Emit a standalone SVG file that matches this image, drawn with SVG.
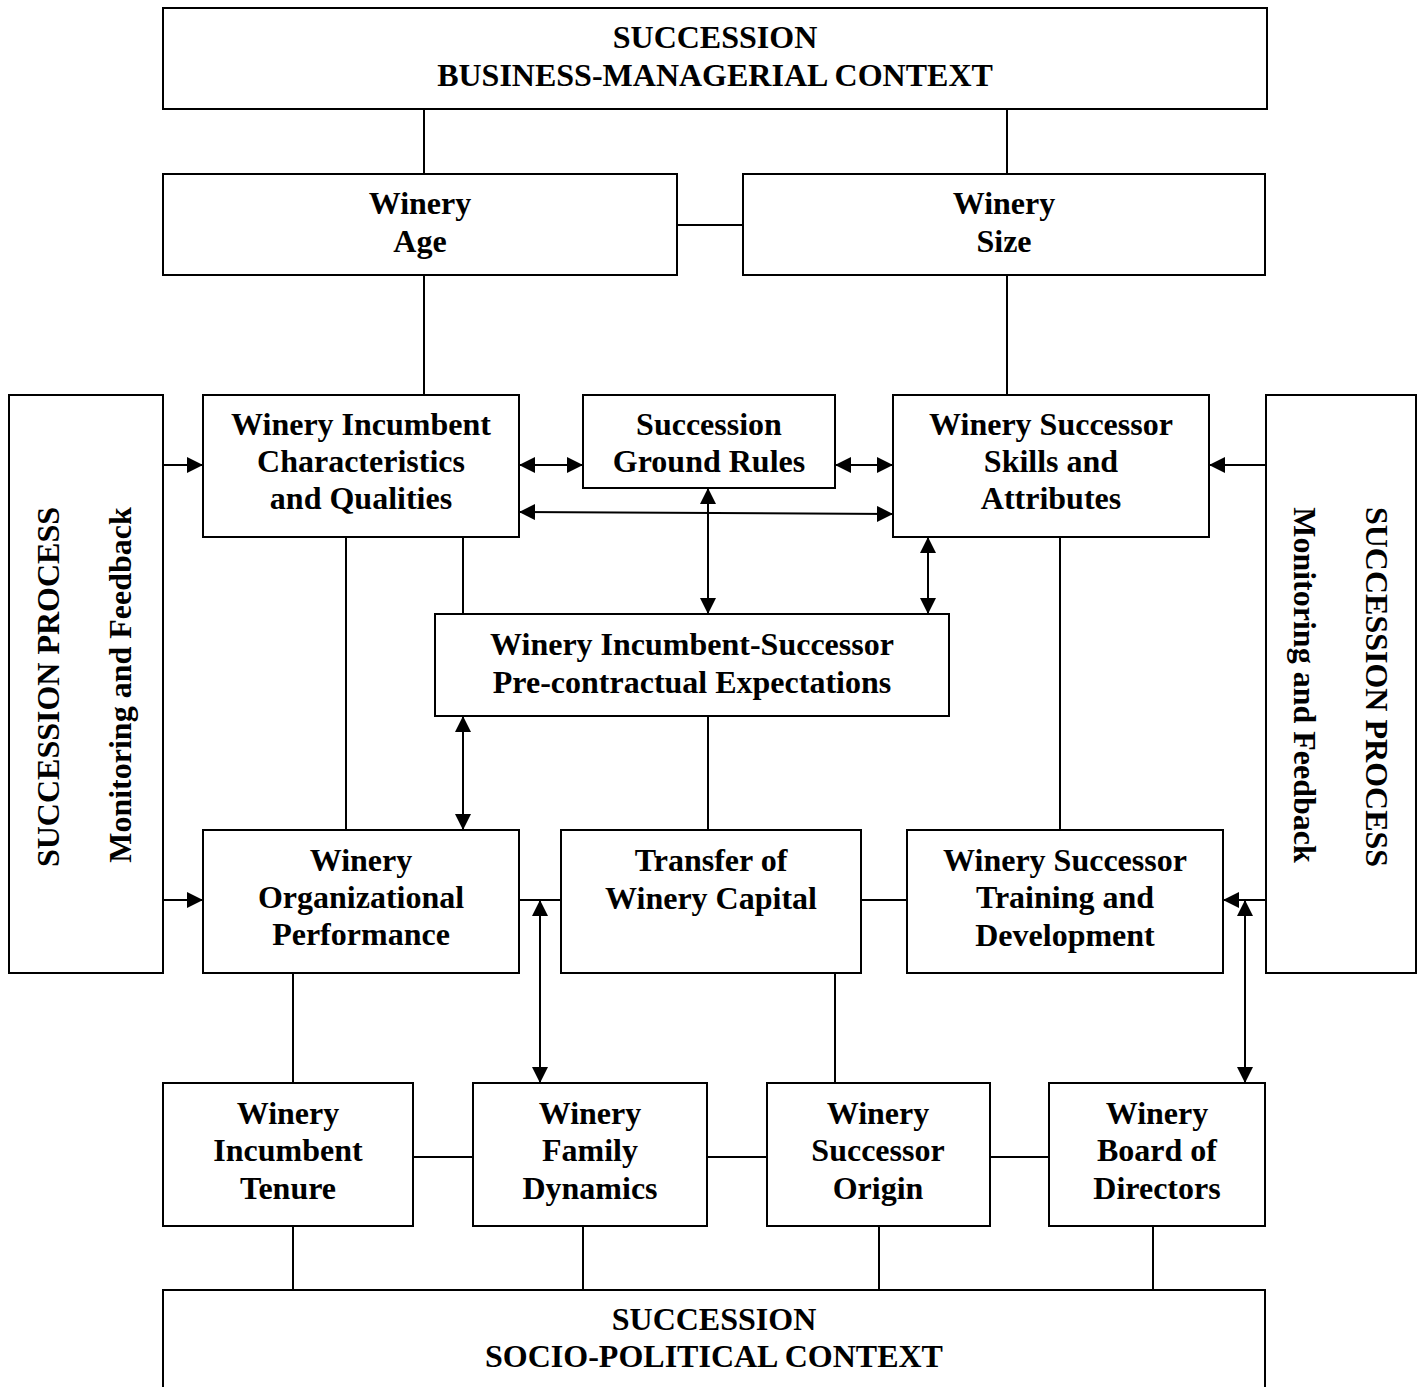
<svg xmlns="http://www.w3.org/2000/svg" width="1421" height="1387" viewBox="0 0 1421 1387">
  <style>
    .box { fill: #fff; stroke: #000; stroke-width: 2; }
    .lbl { font-family: "Liberation Serif", "Times New Roman", serif; font-weight: bold; font-size: 32px; text-anchor: middle; fill: #000; }
    .ln { stroke: #000; stroke-width: 2; fill: none; }
    .ar { marker-end: url(#head); }
    .bi { marker-start: url(#tail); marker-end: url(#head); }
  </style>
  <defs>
    <marker id="head" viewBox="0 0 10 10" refX="10" refY="5" markerWidth="8" markerHeight="8" markerUnits="strokeWidth" orient="auto">
      <path d="M0,0 L10,5 L0,10 Z" fill="#000"/>
    </marker>
    <marker id="tail" viewBox="0 0 10 10" refX="0" refY="5" markerWidth="8" markerHeight="8" markerUnits="strokeWidth" orient="auto">
      <path d="M10,0 L0,5 L10,10 Z" fill="#000"/>
    </marker>
  </defs>
  <rect width="1421" height="1387" fill="#fff"/>

  <!-- connectors -->
  <g id="connectors">
    <line class="ln" x1="424" y1="109" x2="424" y2="174"/>
    <line class="ln" x1="1007" y1="109" x2="1007" y2="174"/>
    <line class="ln" x1="677" y1="225" x2="743" y2="225"/>
    <line class="ln" x1="424" y1="275" x2="424" y2="395"/>
    <line class="ln" x1="1007" y1="275" x2="1007" y2="395"/>
    <line class="ln ar" x1="163" y1="465" x2="203" y2="465"/>
    <line class="ln ar" x1="163" y1="900" x2="203" y2="900"/>
    <line class="ln ar" x1="1266" y1="465" x2="1209" y2="465"/>
    <line class="ln ar" x1="1266" y1="900" x2="1223" y2="900"/>
    <line class="ln bi" x1="519" y1="465" x2="583" y2="465"/>
    <line class="ln bi" x1="835" y1="465" x2="893" y2="465"/>
    <line class="ln bi" x1="519" y1="512" x2="893" y2="514"/>
    <line class="ln bi" x1="708" y1="488" x2="708" y2="614"/>
    <line class="ln bi" x1="928" y1="537" x2="928" y2="614"/>
    <line class="ln bi" x1="463" y1="716" x2="463" y2="830"/>
    <line class="ln" x1="346" y1="537" x2="346" y2="830"/>
    <line class="ln" x1="463" y1="537" x2="463" y2="614"/>
    <line class="ln" x1="708" y1="716" x2="708" y2="830"/>
    <line class="ln" x1="1060" y1="537" x2="1060" y2="830"/>
    <line class="ln" x1="519" y1="900" x2="561" y2="900"/>
    <line class="ln" x1="861" y1="900" x2="907" y2="900"/>
    <line class="ln bi" x1="540" y1="900" x2="540" y2="1083"/>
    <line class="ln bi" x1="1245" y1="900" x2="1245" y2="1083"/>
    <line class="ln" x1="293" y1="973" x2="293" y2="1083"/>
    <line class="ln" x1="835" y1="973" x2="835" y2="1083"/>
    <line class="ln" x1="413" y1="1157" x2="473" y2="1157"/>
    <line class="ln" x1="707" y1="1157" x2="767" y2="1157"/>
    <line class="ln" x1="990" y1="1157" x2="1049" y2="1157"/>
    <line class="ln" x1="293" y1="1226" x2="293" y2="1290"/>
    <line class="ln" x1="583" y1="1226" x2="583" y2="1290"/>
    <line class="ln" x1="879" y1="1226" x2="879" y2="1290"/>
    <line class="ln" x1="1153" y1="1226" x2="1153" y2="1290"/>
  </g>

  <!-- nodes -->
  <g id="business-context">
    <rect class="box" x="163" y="8" width="1104" height="101"/>
    <text class="lbl" x="715" y="48">SUCCESSION</text>
    <text class="lbl" x="715" y="86">BUSINESS-MANAGERIAL CONTEXT</text>
  </g>
  <g id="winery-age">
    <rect class="box" x="163" y="174" width="514" height="101"/>
    <text class="lbl" x="420" y="214">Winery</text>
    <text class="lbl" x="420" y="252">Age</text>
  </g>
  <g id="winery-size">
    <rect class="box" x="743" y="174" width="522" height="101"/>
    <text class="lbl" x="1004" y="214">Winery</text>
    <text class="lbl" x="1004" y="252">Size</text>
  </g>
  <g id="process-left">
    <rect class="box" x="9" y="395" width="154" height="578"/>
    <text class="lbl" transform="translate(59,687) rotate(-90)">SUCCESSION PROCESS</text>
    <text class="lbl" transform="translate(131,685) rotate(-90)">Monitoring and Feedback</text>
  </g>
  <g id="process-right">
    <rect class="box" x="1266" y="395" width="150" height="578"/>
    <text class="lbl" transform="translate(1366,687) rotate(90)">SUCCESSION PROCESS</text>
    <text class="lbl" transform="translate(1294,685) rotate(90)">Monitoring and Feedback</text>
  </g>
  <g id="incumbent-characteristics">
    <rect class="box" x="203" y="395" width="316" height="142"/>
    <text class="lbl" x="361" y="435">Winery Incumbent</text>
    <text class="lbl" x="361" y="472">Characteristics</text>
    <text class="lbl" x="361" y="509">and Qualities</text>
  </g>
  <g id="ground-rules">
    <rect class="box" x="583" y="395" width="252" height="93"/>
    <text class="lbl" x="709" y="435">Succession</text>
    <text class="lbl" x="709" y="472">Ground Rules</text>
  </g>
  <g id="successor-skills">
    <rect class="box" x="893" y="395" width="316" height="142"/>
    <text class="lbl" x="1051" y="435">Winery Successor</text>
    <text class="lbl" x="1051" y="472">Skills and</text>
    <text class="lbl" x="1051" y="509">Attributes</text>
  </g>
  <g id="pre-contractual">
    <rect class="box" x="435" y="614" width="514" height="102"/>
    <text class="lbl" x="692" y="655">Winery Incumbent-Successor</text>
    <text class="lbl" x="692" y="693">Pre-contractual Expectations</text>
  </g>
  <g id="organizational-performance">
    <rect class="box" x="203" y="830" width="316" height="143"/>
    <text class="lbl" x="361" y="871">Winery</text>
    <text class="lbl" x="361" y="908">Organizational</text>
    <text class="lbl" x="361" y="945">Performance</text>
  </g>
  <g id="capital-transfer">
    <rect class="box" x="561" y="830" width="300" height="143"/>
    <text class="lbl" x="711" y="871">Transfer of</text>
    <text class="lbl" x="711" y="909">Winery Capital</text>
  </g>
  <g id="successor-training">
    <rect class="box" x="907" y="830" width="316" height="143"/>
    <text class="lbl" x="1065" y="871">Winery Successor</text>
    <text class="lbl" x="1065" y="908">Training and</text>
    <text class="lbl" x="1065" y="946">Development</text>
  </g>
  <g id="incumbent-tenure">
    <rect class="box" x="163" y="1083" width="250" height="143"/>
    <text class="lbl" x="288" y="1124">Winery</text>
    <text class="lbl" x="288" y="1161">Incumbent</text>
    <text class="lbl" x="288" y="1199">Tenure</text>
  </g>
  <g id="family-dynamics">
    <rect class="box" x="473" y="1083" width="234" height="143"/>
    <text class="lbl" x="590" y="1124">Winery</text>
    <text class="lbl" x="590" y="1161">Family</text>
    <text class="lbl" x="590" y="1199">Dynamics</text>
  </g>
  <g id="successor-origin">
    <rect class="box" x="767" y="1083" width="223" height="143"/>
    <text class="lbl" x="878" y="1124">Winery</text>
    <text class="lbl" x="878" y="1161">Successor</text>
    <text class="lbl" x="878" y="1199">Origin</text>
  </g>
  <g id="board-of-directors">
    <rect class="box" x="1049" y="1083" width="216" height="143"/>
    <text class="lbl" x="1157" y="1124">Winery</text>
    <text class="lbl" x="1157" y="1161">Board of</text>
    <text class="lbl" x="1157" y="1199">Directors</text>
  </g>
  <g id="socio-political-context">
    <rect class="box" x="163" y="1290" width="1102" height="110"/>
    <text class="lbl" x="714" y="1330">SUCCESSION</text>
    <text class="lbl" x="714" y="1367">SOCIO-POLITICAL CONTEXT</text>
  </g>
</svg>
